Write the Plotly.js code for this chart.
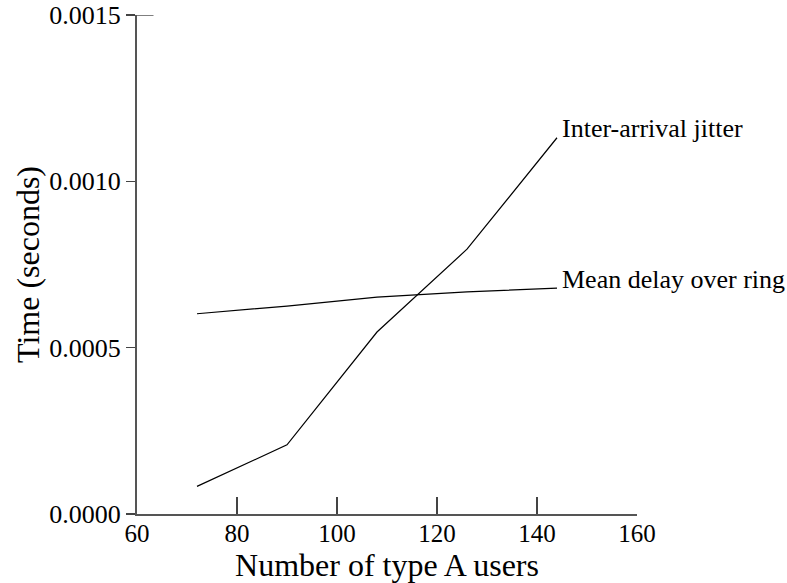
<!DOCTYPE html>
<html>
<head>
<meta charset="utf-8">
<script src="https://cdn.plot.ly/plotly-3.0.1.min.js"></script>
<style>html,body{margin:0;padding:0;background:#fff;}#chart{width:787px;height:583px;}</style>
</head>
<body>
<div id="chart"></div>
<script>
const users = [72, 90, 108, 126, 144];
const jitter = [0.000083, 0.000208, 0.000547, 0.000796, 0.001131];
const meanDelay = [0.000602, 0.000625, 0.000652, 0.000668, 0.000679];
const seriesNames = ["Inter-arrival jitter", "Mean delay over ring"];
const xTicks = [60, 80, 100, 120, 140, 160];
const yTicks = [0, 0.0005, 0.0010, 0.0015];
const yTickText = ["0.0000", "0.0005", "0.0010", "0.0015"];

const font = "Liberation Serif, Times New Roman, serif";
const traces = [
  {x: users, y: jitter, mode: "lines", line: {color: "#000", width: 1.2}, name: seriesNames[0]},
  {x: users, y: meanDelay, mode: "lines", line: {color: "#000", width: 1.2}, name: seriesNames[1]}
];
const last = users.length - 1;
const layout = {
  width: 787, height: 583,
  margin: {l: 137, r: 150, t: 15, b: 69},
  paper_bgcolor: "#fff", plot_bgcolor: "#fff",
  showlegend: false,
  font: {family: font, color: "#000", size: 26},
  xaxis: {
    range: [60, 160], tickvals: xTicks, ticktext: xTicks.map(String),
    ticks: "inside", ticklen: 17, tickcolor: "#444", tickwidth: 1.5,
    showline: true, linecolor: "#555", linewidth: 2, showgrid: false, zeroline: false,
    tickfont: {size: 25}, ticklabelstandoff: -4,
    title: {text: "Number of type A users", font: {size: 32}, standoff: 0}
  },
  yaxis: {
    range: [0, 0.0015], tickvals: yTicks, ticktext: yTickText,
    ticks: "outside", ticklen: 9, tickcolor: "#444", tickwidth: 1.5,
    showline: true, linecolor: "#555", linewidth: 2, showgrid: false, zeroline: false,
    tickfont: {size: 26},
    title: {text: "Time (seconds)", font: {size: 32}, standoff: 0}
  },
  shapes: [
    {type: "line", xref: "paper", yref: "y", x0: 0, x1: 0.033, y0: 0.0015, y1: 0.0015, line: {color: "#555", width: 1.5}}
  ],
  annotations: [
    {x: users[last], y: jitter[last], xref: "x", yref: "y", text: seriesNames[0], showarrow: false,
     xanchor: "left", yanchor: "middle", xshift: 3, yshift: 9, font: {size: 26}},
    {x: users[last], y: meanDelay[last], xref: "x", yref: "y", text: seriesNames[1], showarrow: false,
     xanchor: "left", yanchor: "middle", xshift: 3, yshift: 9, font: {size: 26}}
  ]
};
Plotly.newPlot("chart", traces, layout, {displayModeBar: false, staticPlot: true});
</script>
</body>
</html>
